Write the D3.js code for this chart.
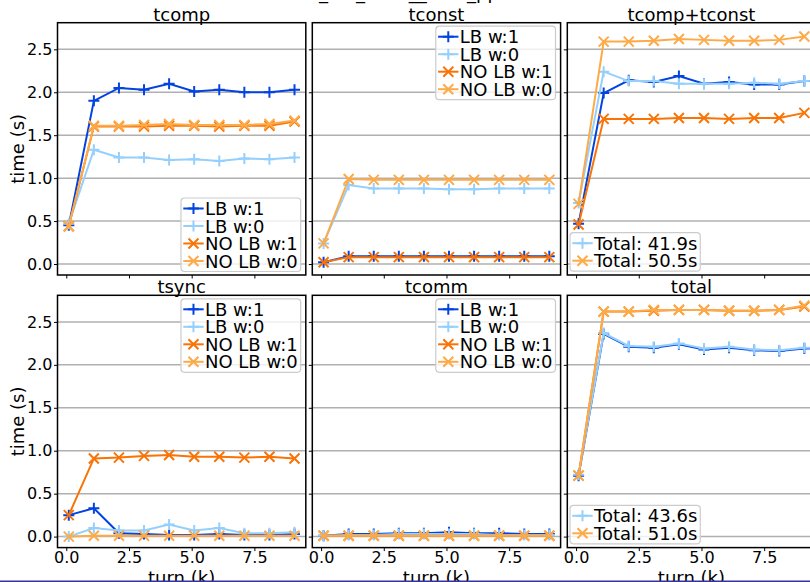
<!DOCTYPE html>
<html>
<head>
<meta charset="utf-8">
<script src="https://cdn.jsdelivr.net/npm/d3@7"></script>
<style>
body{margin:0;background:#fff;overflow:hidden;}
svg{display:block;font-family:"DejaVu Sans",sans-serif;}
</style>
</head>
<body>
<div id="chart"></div>
<script>
// turns (k) and tick values
let turns = [0.1, 1.1, 2.1, 3.1, 4.1, 5.1, 6.1, 7.1, 8.1, 9.1];
let yTicks = [0, 0.5, 1.0, 1.5, 2.0, 2.5];
let xTicks = [0, 2.5, 5.0, 7.5];

let seriesNames = ["LB w:1", "LB w:0", "NO LB w:1", "NO LB w:0"];

// tcomp
let tcompLB1 = [0.45, 1.90, 2.05, 2.03, 2.10, 2.01, 2.03, 2.00, 2.00, 2.03];
let tcompLB0 = [0.47, 1.33, 1.24, 1.24, 1.21, 1.22, 1.20, 1.23, 1.22, 1.24];
let tcompNO1 = [0.44, 1.60, 1.60, 1.60, 1.61, 1.61, 1.60, 1.61, 1.61, 1.66];
let tcompNO0 = [0.44, 1.61, 1.61, 1.62, 1.63, 1.62, 1.62, 1.62, 1.63, 1.67];
// tconst
let tconstLB1 = [0.02, 0.09, 0.09, 0.09, 0.09, 0.09, 0.09, 0.09, 0.09, 0.09];
let tconstLB0 = [0.24, 0.92, 0.88, 0.88, 0.88, 0.87, 0.87, 0.88, 0.88, 0.88];
let tconstNO1 = [0.02, 0.08, 0.08, 0.08, 0.08, 0.08, 0.08, 0.08, 0.08, 0.08];
let tconstNO0 = [0.24, 0.99, 0.98, 0.98, 0.98, 0.98, 0.98, 0.98, 0.98, 0.98];
// tcomp+tconst
let tsumLB1 = [0.47, 1.99, 2.14, 2.12, 2.19, 2.10, 2.12, 2.09, 2.09, 2.13];
let tsumLB0 = [0.71, 2.24, 2.13, 2.13, 2.10, 2.10, 2.10, 2.11, 2.10, 2.13];
let tsumNO1 = [0.46, 1.69, 1.69, 1.69, 1.70, 1.70, 1.69, 1.70, 1.70, 1.76];
let tsumNO0 = [0.70, 2.59, 2.59, 2.60, 2.62, 2.61, 2.60, 2.60, 2.61, 2.65];
// tsync
let tsyncLB1 = [0.25, 0.33, 0.04, 0.03, 0.02, 0.02, 0.03, 0.02, 0.02, 0.03];
let tsyncLB0 = [0.00, 0.10, 0.07, 0.07, 0.14, 0.07, 0.10, 0.04, 0.04, 0.05];
let tsyncNO1 = [0.25, 0.91, 0.92, 0.94, 0.95, 0.93, 0.93, 0.92, 0.93, 0.91];
let tsyncNO0 = [0.00, 0.01, 0.01, 0.01, 0.01, 0.01, 0.01, 0.01, 0.01, 0.01];
// tcomm
let tcommLB1 = [0.01, 0.03, 0.03, 0.04, 0.04, 0.05, 0.04, 0.04, 0.03, 0.03];
let tcommLB0 = [0.01, 0.02, 0.02, 0.03, 0.03, 0.03, 0.03, 0.02, 0.02, 0.02];
let tcommNO1 = [0.01, 0.01, 0.01, 0.01, 0.01, 0.01, 0.01, 0.01, 0.01, 0.01];
let tcommNO0 = [0.01, 0.01, 0.01, 0.01, 0.01, 0.01, 0.01, 0.01, 0.01, 0.01];
// total
let totalLB1 = [0.71, 2.36, 2.21, 2.20, 2.24, 2.18, 2.20, 2.17, 2.16, 2.19];
let totalLB0 = [0.72, 2.37, 2.22, 2.21, 2.25, 2.19, 2.21, 2.18, 2.17, 2.20];
let totalNO1 = [0.71, 2.62, 2.62, 2.63, 2.64, 2.64, 2.63, 2.63, 2.64, 2.68];
let totalNO0 = [0.71, 2.62, 2.62, 2.64, 2.64, 2.64, 2.63, 2.63, 2.64, 2.69];

let totalLabels1 = ["", "Total: 41.9s", "", "Total: 50.5s"];
let totalLabels2 = ["", "Total: 43.6s", "", "Total: 51.0s"];

let colors = ["#0343df", "#95d0fc", "#f97306", "#fdaa48"];
let markers = ["plus", "plus", "x", "x"];

let panels = [
    {title: "tcomp", data: [tcompLB1, tcompLB0, tcompNO1, tcompNO0], labels: seriesNames, legend: "lower right"},
    {title: "tconst", data: [tconstLB1, tconstLB0, tconstNO1, tconstNO0], labels: seriesNames, legend: "upper right"},
    {title: "tcomp+tconst", data: [tsumLB1, tsumLB0, tsumNO1, tsumNO0], labels: totalLabels1, legend: "lower left"},
    {title: "tsync", data: [tsyncLB1, tsyncLB0, tsyncNO1, tsyncNO0], labels: seriesNames, legend: "upper right"},
    {title: "tcomm", data: [tcommLB1, tcommLB0, tcommNO1, tcommNO0], labels: seriesNames, legend: "upper right"},
    {title: "total", data: [totalLB1, totalLB0, totalNO1, totalNO0], labels: totalLabels2, legend: "lower left"}
];

let width = 810, height = 582;
let axW = 248.3, axH = 252.3;
let colLeft = [57.5, 312.3, 567.3];
let rowTop = [22.7, 295.3];

let svg = d3.select("#chart").append("svg")
    .attr("width", width)
    .attr("height", height);

svg.append("rect").attr("width", width).attr("height", height).attr("fill", "white");

// clipped suptitle, only descenders show
svg.append("text")
    .text("_lb1_tests__rank_pp")
    .attr("x", 319)
    .attr("y", -1.2)
    .attr("font-size", 18)
    .attr("fill", "black");

function markerPath(type){
    if(type === "plus") return "M-5.5,0H5.5M0,-5.5V5.5";
    return "M-5,-5L5,5M-5,5L5,-5";
}

panels.forEach(function(p, i){
    let col = i % 3, row = Math.floor(i / 3);
    let left = colLeft[col], top = rowTop[row];

    let x = d3.scaleLinear().domain([-0.35, 9.55]).range([left, left + axW]);
    let y = d3.scaleLinear().domain([-0.128, 2.81]).range([top + axH, top]);

    let g = svg.append("g");

    g.append("clipPath").attr("id", "clip" + i)
        .append("rect").attr("x", left).attr("y", top).attr("width", axW).attr("height", axH);

    // grid
    g.selectAll(".grid").data(yTicks).enter().append("line")
        .attr("x1", left).attr("x2", left + axW)
        .attr("y1", function(d){ return y(d); })
        .attr("y2", function(d){ return y(d); })
        .attr("stroke", "#b0b0b0")
        .attr("stroke-width", 1.5);

    let plot = g.append("g").attr("clip-path", "url(#clip" + i + ")");
    let line = d3.line()
        .x(function(d, k){ return x(turns[k]); })
        .y(function(d){ return y(d); });

    p.data.forEach(function(s, j){
        plot.append("path")
            .attr("d", line(s))
            .attr("fill", "none")
            .attr("stroke", colors[j])
            .attr("stroke-width", 2);
        plot.selectAll(".m" + j).data(s).enter().append("path")
            .attr("transform", function(d, k){ return "translate(" + x(turns[k]) + "," + y(d) + ")"; })
            .attr("d", markerPath(markers[j]))
            .attr("fill", "none")
            .attr("stroke", colors[j])
            .attr("stroke-width", 2);
    });

    // axes
    let yAxis = d3.axisLeft(y).tickValues(yTicks).tickSize(3.5).tickPadding(1.5)
        .tickFormat(col === 0 ? d3.format(".1f") : function(){ return ""; });
    let ya = g.append("g").attr("transform", "translate(" + left + ",0)").call(yAxis);
    let xAxis = d3.axisBottom(x).tickValues(xTicks).tickSize(3.5).tickPadding(1)
        .tickFormat(row === 1 ? d3.format(".1f") : function(){ return ""; });
    let xa = g.append("g").attr("transform", "translate(0," + (top + axH) + ")").call(xAxis);
    [ya, xa].forEach(function(a){
        a.select(".domain").remove();
        a.attr("font-size", 16).attr("font-family", "DejaVu Sans, sans-serif");
        a.selectAll("line").attr("stroke", "black").attr("stroke-width", 1);
        a.selectAll("text").attr("fill", "black");
    });

    g.append("rect")
        .attr("x", left).attr("y", top)
        .attr("width", axW).attr("height", axH)
        .attr("fill", "none")
        .attr("stroke", "black")
        .attr("stroke-width", 1.5);

    g.append("text")
        .text(p.title)
        .attr("x", left + axW / 2)
        .attr("y", top - 2.2)
        .attr("text-anchor", "middle")
        .attr("font-size", 18)
        .attr("fill", "black");

    if(col === 0){
        g.append("text")
            .text("time (s)")
            .attr("transform", "translate(17.5," + (top + axH / 2) + ") rotate(-90)")
            .attr("text-anchor", "middle")
            .attr("dominant-baseline", "central")
            .attr("font-size", 18)
            .attr("fill", "black");
    }
    if(row === 1){
        g.append("text")
            .text("turn (k)")
            .attr("x", left + axW / 2)
            .attr("y", 584)
            .attr("text-anchor", "middle")
            .attr("font-size", 18)
            .attr("fill", "black");
    }

    // legend
    let items = [];
    p.labels.forEach(function(l, j){ if(l !== "") items.push({label: l, j: j}); });
    let rowGap = 17.5;
    let boxH = 10.5 + (items.length - 1) * rowGap + 10.5;
    let lg = g.append("g");
    let texts = [];
    items.forEach(function(it, k){
        let cy = 10.5 + k * rowGap;
        lg.append("line")
            .attr("x1", 2.3).attr("x2", 22.7)
            .attr("y1", cy).attr("y2", cy)
            .attr("stroke", colors[it.j]).attr("stroke-width", 2);
        lg.append("path")
            .attr("transform", "translate(12.5," + cy + ")")
            .attr("d", markerPath(markers[it.j]))
            .attr("fill", "none")
            .attr("stroke", colors[it.j]).attr("stroke-width", 2);
        let t = lg.append("text")
            .text(it.label)
            .attr("x", 24).attr("y", cy)
            .attr("dominant-baseline", "central")
            .attr("font-size", 18)
            .attr("fill", "black");
        texts.push(t.node().getComputedTextLength());
    });
    let boxW = 24 + d3.max(texts) + 3;
    lg.insert("rect", ":first-child")
        .attr("width", boxW).attr("height", boxH)
        .attr("rx", 3.5)
        .attr("fill", "white").attr("fill-opacity", 0.8)
        .attr("stroke", "#cccccc").attr("stroke-width", 1.2);
    let bx, by;
    if(p.legend === "lower right"){ bx = left + axW - 5.1 - boxW; by = top + axH - 3.5 - boxH; }
    else if(p.legend === "upper right"){ bx = left + axW - 5.1 - boxW; by = top + 3.5; }
    else { bx = left + 2.7; by = top + axH - 3.8 - boxH; }
    lg.attr("transform", "translate(" + bx + "," + by + ")");
});

// thin line along the bottom edge of the capture
svg.append("rect")
    .attr("x", 0).attr("y", 580.5)
    .attr("width", width).attr("height", 1.5)
    .attr("fill", "#34349a");
</script>
</body>
</html>
